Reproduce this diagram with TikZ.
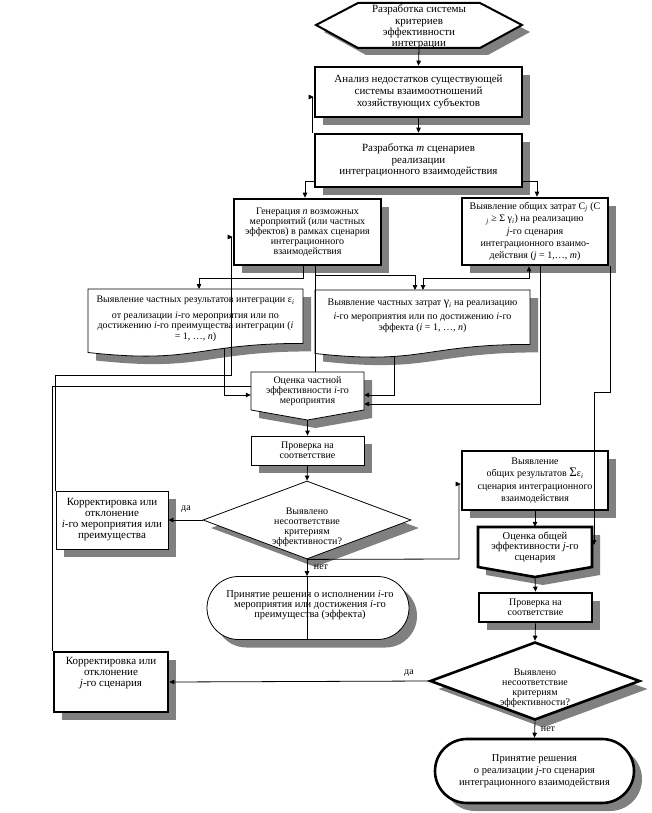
\documentclass[tikz,border=0pt]{standalone}
\usepackage{fontspec}
\setmainfont{Liberation Serif}
\usetikzlibrary{shapes.geometric,shapes.misc,arrows.meta,shadows}
\definecolor{shd}{gray}{0.5}
\newcommand{\myfs}[2]{\fontsize{#1}{#2}\selectfont}
\begin{document}
\begin{tikzpicture}[x=1pt,y=-1pt,
  >={Triangle[length=5pt,width=4.5pt]},
  shd8/.style={general shadow={fill=shd,shadow xshift=8pt,shadow yshift=-8pt}},
  thinbox/.style={draw,line width=0.8pt,fill=white,shd8,align=center,inner sep=1pt},
  thickbox/.style={draw,line width=2.6pt,fill=white,shd8,align=center,inner sep=1pt},
  txt/.style={align=center,inner sep=0pt},
  conn/.style={line width=0.8pt},
  lbl/.style={inner sep=0pt,font=\myfs{10}{10}},
]
\useasboundingbox (0,0) rectangle (651,813);
\fill[white] (0,0) rectangle (651,813);

% ---------- hexagon ----------
\begin{scope}[shift={(8,7)}]
\fill[shd] (316,25) -- (358,3) -- (480,3) -- (522,25) -- (480,48) -- (358,48) -- cycle;
\end{scope}
\draw[line width=2pt,fill=white] (316,25) -- (358,3) -- (480,3) -- (522,25) -- (480,48) -- (358,48) -- cycle;
\node[txt,font=\myfs{11}{11.3}] (hex) at (419,27) {Разработка системы\\критериев\\эффективности\\интеграции};
\coordinate (hexb) at (419,48);

% ---------- top boxes ----------
\node[thickbox,minimum width=207pt,minimum height=50pt,font=\myfs{11}{12}] (b2) at (418.5,92)
  {Анализ недостатков существующей\\системы взаимоотношений\\хозяйствующих субъектов};
\node[thickbox,minimum width=207pt,minimum height=53pt,font=\myfs{11}{11.5}] (b3) at (418.5,160.5)
  {Разработка \textit{m} сценариев\\реализации\\интеграционного взаимодействия};
\node[thickbox,minimum width=147pt,minimum height=66pt,font=\myfs{10}{10}] (gen) at (307.5,232)
  {Генерация \textit{n} возможных\\мероприятий (или частных\\эффектов) в рамках сценария\\интеграционного\\взаимодействия};
\node[thickbox,minimum width=146pt,minimum height=67pt,font=\myfs{10}{12.3}] (rbox) at (535,231.5)
  {Выявление общих затрат C\textsubscript{\textit{j}} (C\\\textsubscript{\textit{j}} ≥ Σ γ\textsubscript{\textit{i}}) на реализацию\\\textit{j}-го сценария\\интеграционного взаимо-\\действия (\textit{j} = 1,…, \textit{m})};

% ---------- documents ----------
\begin{scope}[shift={(8,8)}]
\fill[shd] (88,289) -- (303,289) -- (303,343.4) .. controls (195.5,343.4) and (195.5,364.3) .. (88,352.5) -- cycle;
\fill[shd] (315,290) -- (530,290) -- (530,344.4) .. controls (422.5,344.4) and (422.5,365.3) .. (315,353.5) -- cycle;
\end{scope}
\draw[line width=0.8pt,fill=white] (88,289) -- (303,289) -- (303,343.4) .. controls (195.5,343.4) and (195.5,364.3) .. (88,352.5) -- cycle;
\draw[line width=0.8pt,fill=white] (315,290) -- (530,290) -- (530,344.4) .. controls (422.5,344.4) and (422.5,365.3) .. (315,353.5) -- cycle;
\node[txt,font=\myfs{10}{10.5}] (doc1) at (195.5,319)
  {Выявление частных результатов интеграции ε\textsubscript{\textit{i}}\\[5pt]от реализации \textit{i}-го мероприятия или по\\достижению \textit{i}-го преимущества интеграции (\textit{i}\\= 1, …, \textit{n})};
\node[txt,font=\myfs{10}{11}] (doc2) at (422.5,316)
  {Выявление частных затрат {\myfs{12}{12}γ}\textsubscript{\textit{i}} на реализацию\\[3pt]\textit{i}-го мероприятия или по достижению \textit{i}-го\\эффекта (\textit{i} = 1, …, \textit{n})};
\coordinate (doc1n) at (199,289);
\coordinate (doc2nA) at (415,290);
\coordinate (doc2nB) at (423,290);
\coordinate (doc1s) at (224,348);
\coordinate (doc2s) at (394,356);

% ---------- estimation shapes ----------
\begin{scope}[shift={(8,8)}]
\fill[shd] (251,372) -- (364,372) -- (364,410) -- (307.5,420) -- (251,410) -- cycle;
\fill[shd] (478,527) -- (592,527) -- (592,567) -- (535,577) -- (478,567) -- cycle;
\end{scope}
\draw[line width=0.8pt,fill=white] (251,372) -- (364,372) -- (364,410) -- (307.5,420) -- (251,410) -- cycle;
\draw[line width=2.6pt,fill=white] (478,527) -- (592,527) -- (592,567) -- (535,577) -- (478,567) -- cycle;
\node[txt,minimum width=113pt,minimum height=38pt,font=\myfs{10}{10}] (est1) at (307.5,391)
  {Оценка частной\\эффективности \textit{i}-го\\мероприятия};
\coordinate (est1tip) at (307.5,420);
\node[txt,minimum width=114pt,minimum height=40pt,font=\myfs{10.5}{10.5}] (est2) at (535,547)
  {Оценка общей\\эффективности \textit{j}-го\\сценария};
\coordinate (est2tip) at (535,577);

% ---------- check boxes ----------
\node[thinbox,minimum width=113pt,minimum height=29pt,font=\myfs{10}{10}] (chk1) at (307.5,450.5) {Проверка на\\соответствие};
\node[thickbox,minimum width=113pt,minimum height=29pt,font=\myfs{10}{10.5}] (chk2) at (535.5,607.5) {Проверка на\\соответствие};

% ---------- total results ----------
\node[thickbox,minimum width=146pt,minimum height=59pt,font=\myfs{10}{12.5}] (bres) at (535,480.5)
  {Выявление\\общих результатов {\myfs{13}{13}Σ}ε\textsubscript{\textit{i}}\\сценария интеграционного\\взаимодействия};

% ---------- decisions ----------
\node[diamond,draw,line width=0.8pt,fill=white,shd8,minimum width=208pt,minimum height=78pt,inner sep=0pt] (d1) at (307,520) {};
\node[txt,font=\myfs{10}{10}] (d1t) at (307,527) {Выявлено\\несоответствие\\критериям\\эффективности?};
\node[diamond,draw,line width=2.6pt,fill=white,shd8,minimum width=210pt,minimum height=78pt,inner sep=0pt] (d2) at (535,681) {};
\node[txt,font=\myfs{10}{10}] (d2t) at (535,688) {Выявлено\\несоответствие\\критериям\\эффективности?};

% ---------- corrections ----------
\node[thinbox,minimum width=112pt,minimum height=58pt,font=\myfs{11}{11}] (kor1) at (112,520)
  {Корректировка или\\отклонение\\\textit{i}-го мероприятия или\\преимущества};
\node[thickbox,minimum width=114pt,minimum height=60pt] (kor2) at (111,682) {};
\node[txt,font=\myfs{11}{11}] (kor2t) at (111,673) {Корректировка или\\отклонение\\\textit{j}-го сценария};

% ---------- terminals ----------
\node[rounded rectangle,draw,line width=0.8pt,fill=white,shd8,minimum width=202pt,minimum height=63pt,inner sep=0pt] (st1) at (308,608) {};
\node[txt,font=\myfs{10.5}{10.2}] (st1t) at (310,605) {Принятие решения о исполнении \textit{i}-го\\мероприятия или достижения \textit{i}-го\\преимущества (эффекта)};
\node[rounded rectangle,draw,line width=2.6pt,fill=white,shd8,minimum width=199pt,minimum height=64pt,inner sep=0pt] (st2) at (534.5,771) {};
\node[txt,font=\myfs{10.5}{12}] (st2t) at (534.5,771) {Принятие решения\\о реализации \textit{j}-го сценария\\интеграционного взаимодействия};

% ---------- labels ----------
\node[lbl] (da1) at (186,509) {да};
\node[lbl] (net1) at (321,567) {нет};
\node[lbl] (da2) at (409,673) {да};
\node[lbl] (net2) at (548,729) {нет};

% ---------- helper coordinates ----------
\coordinate (c1) at (305,181);
\coordinate (c2) at (537,181);
\coordinate (c3) at (231,375);
\coordinate (c3a) at (231,237);
\coordinate (c4) at (52,386);
\coordinate (c5) at (303,278);
\coordinate (c6) at (315,275);
\coordinate (c7) at (529,278);
\coordinate (c8) at (540,404);
\coordinate (c9) at (394,395);
\coordinate (c10) at (224,395);
\coordinate (c11) at (610,392);
\coordinate (c12) at (594,392);
\coordinate (c13) at (594,545);
\coordinate (c14) at (459,559);
\coordinate (c15) at (459,484);
\coordinate (c16) at (312,97);

% ---------- connectors ----------
\draw[conn,->] (hexb) -- (b2.north);
\draw[conn,->] (b2.south) -- (b3.north);
\draw[conn,->] (b3.north west -| c16) -- (c16) -- (b2.west |- c16);
\draw[conn,->] (b3.west |- c1) -| (gen.north -| c1);
\draw[conn,->] (b3.east |- c2) -| (rbox.north -| c2);
\draw[conn,->] (kor1.north west) |- (c3) -- (c3a) -- (gen.west |- c3a);
\draw[conn] (kor2.north -| c4) |- (est1.west |- c4);
\draw[conn,->] (gen.south -| c5) -- (c5) -| (doc1n);
\draw[conn] (gen.south -| c6) -- (est1.north -| c6);
\draw[conn,->] (c6) -| (doc2nA);
\draw[conn,<->] (doc2nB) |- (c7) -- (rbox.south -| c7);
\draw[conn,->] (rbox.south -| c8) |- (est1.east |- c8);
\draw[conn,->] (doc2s) -- (c9) -- (est1.east |- c9);
\draw[conn,->] (doc1s) -- (c10) -- (est1.west |- c10);
\draw[conn,->] (rbox.south -| c11) -- (c11) -- (c12) -- (c13);
\draw[conn,->] (est1tip) -- (chk1.north);
\draw[conn,->] (chk1.south) -- (d1.north);
\draw[conn,->] (d1.west) -- (kor1.east);
\draw[conn,->] (d1.south) -- (st1.north -| d1.south);
\draw[conn] (st1.north -| d1.south) -- (st1.south -| d1.south);
\draw[conn,->] (d1.south) -- (c14) -- (c15) -- (bres.west |- c15);
\draw[conn,->] (bres.south) -- (est2.north);
\draw[conn,->] (est2tip) -- (chk2.north);
\draw[conn,->] (chk2.south) -- (d2.north);
\draw[conn,->] (d2.west) -- (kor2.east);
\draw[conn,->] (d2.south) -- (st2.north);
\end{tikzpicture}
\end{document}
